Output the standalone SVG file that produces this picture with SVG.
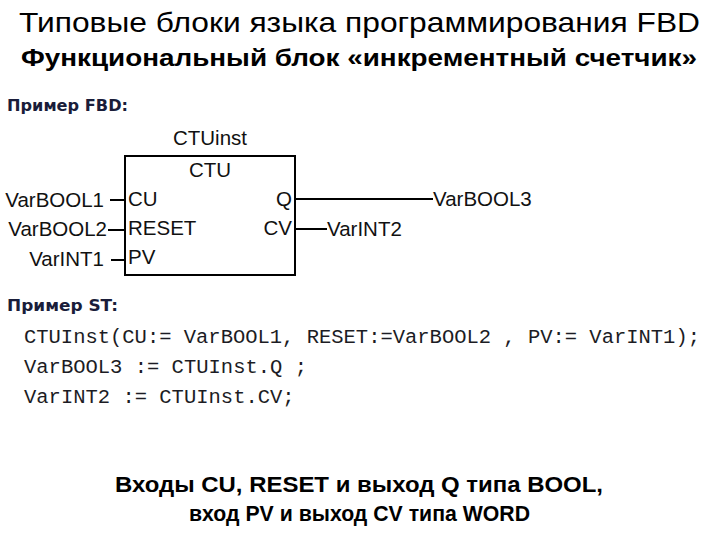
<svg xmlns="http://www.w3.org/2000/svg" width="720" height="540" viewBox="0 0 720 540">
<style>
.t1{font-family:"Liberation Sans",Arial,sans-serif;font-size:27.5px;fill:#000}
.t2{font-family:"Liberation Sans",Arial,sans-serif;font-size:24px;font-weight:bold;fill:#000}
.hd{font-family:"DejaVu Sans","Liberation Sans",sans-serif;font-size:16px;font-weight:bold;fill:#1a1d3a}
.f{font-family:"Liberation Sans",Arial,sans-serif;font-size:20.5px;fill:#111}
.code{font-family:"Liberation Mono","Courier New",monospace;font-size:20.5px;fill:#1c1c24}
.bt{font-family:"Liberation Sans",Arial,sans-serif;font-size:22.5px;font-weight:bold;fill:#000}
.w{stroke:#000;stroke-width:2;fill:none}
</style>
<rect width="720" height="540" fill="#fff"/>
<g id="title">
<text class="t1" x="19" y="32" textLength="681" lengthAdjust="spacingAndGlyphs">Типовые блоки языка программирования FBD</text>
<text class="t2" x="21" y="66" textLength="676" lengthAdjust="spacingAndGlyphs">Функциональный блок «инкрементный счетчик»</text>
</g>
<g id="fbd-heading"><text class="hd" x="7" y="111" textLength="121" lengthAdjust="spacingAndGlyphs">Пример FBD:</text></g>
<g id="ctu-block">
<text class="f" x="210" y="145" text-anchor="middle">CTUinst</text>
<rect class="w" x="125" y="156" width="170" height="119"/>
<text class="f" x="210" y="177" text-anchor="middle">CTU</text>
<text class="f" x="128" y="206">CU</text>
<text class="f" x="128" y="235">RESET</text>
<text class="f" x="128" y="264">PV</text>
<text class="f" x="292" y="206" text-anchor="end">Q</text>
<text class="f" x="292" y="235" text-anchor="end">CV</text>
</g>
<g id="vars">
<text class="f" x="104" y="207" text-anchor="end">VarBOOL1</text>
<text class="f" x="107" y="236" text-anchor="end">VarBOOL2</text>
<text class="f" x="104" y="266" text-anchor="end">VarINT1</text>
<text class="f" x="433" y="206">VarBOOL3</text>
<text class="f" x="327" y="236">VarINT2</text>
</g>
<g id="connectors">
<line class="w" x1="110" y1="200" x2="125" y2="200"/>
<line class="w" x1="108" y1="230" x2="125" y2="230"/>
<line class="w" x1="111" y1="260" x2="125" y2="260"/>
<line class="w" x1="295" y1="199" x2="433" y2="199"/>
<line class="w" x1="295" y1="229" x2="327" y2="229"/>
</g>
<g id="st-heading"><text class="hd" x="7" y="311" textLength="111" lengthAdjust="spacingAndGlyphs">Пример ST:</text></g>
<g id="st-code">
<text class="code" x="24" y="343" textLength="676" lengthAdjust="spacingAndGlyphs" xml:space="preserve">CTUInst(CU:= VarBOOL1, RESET:=VarBOOL2 , PV:= VarINT1);</text>
<text class="code" x="24" y="373" xml:space="preserve">VarBOOL3 := CTUInst.Q ;</text>
<text class="code" x="24" y="403" xml:space="preserve">VarINT2 := CTUInst.CV;</text>
</g>
<g id="note">
<text class="bt" x="115" y="492" textLength="488" lengthAdjust="spacingAndGlyphs">Входы CU, RESET и выход Q типа BOOL,</text>
<text class="bt" x="189" y="521" textLength="341" lengthAdjust="spacingAndGlyphs">вход PV и выход CV типа WORD</text>
</g>
</svg>
